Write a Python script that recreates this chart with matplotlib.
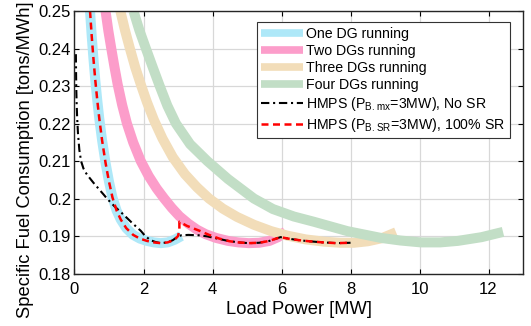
import matplotlib
matplotlib.use("Agg")
import matplotlib.pyplot as plt

plt.rcParams['font.family'] = ['Liberation Sans', 'DejaVu Sans']
plt.rcParams['mathtext.default'] = 'regular'

# ---- data ----
one_x = [0.45, 0.50, 0.55, 0.60, 0.66, 0.72, 0.80, 0.90, 1.00, 1.10, 1.22, 1.34, 1.50, 1.70, 1.90,
         2.10, 2.30, 2.50, 2.70, 2.90, 3.10]
one_y = [0.2500, 0.2432, 0.2372, 0.2318, 0.2262, 0.2212, 0.2155, 0.2095, 0.2045, 0.2003, 0.1968, 0.1944,
         0.1921, 0.1903, 0.1893, 0.1887, 0.1883, 0.1881, 0.1883, 0.1890, 0.1900]

two_x = [0.90, 0.98, 1.07, 1.16, 1.25, 1.38, 1.52, 1.70, 1.92, 2.15, 2.38, 2.60, 2.82, 3.04, 3.30,
         3.55, 3.80, 4.10, 4.45, 4.75, 5.05, 5.35, 5.65, 5.90, 6.12]
two_y = [0.2500, 0.2448, 0.2398, 0.2350, 0.2305, 0.2250, 0.2200, 0.2150, 0.2100, 0.2060, 0.2027, 0.2000,
         0.1975, 0.1953, 0.1933, 0.1917, 0.1905, 0.1895, 0.1887, 0.1883, 0.1881, 0.1882, 0.1887, 0.1897, 0.1912]

three_x = [1.33, 1.46, 1.60, 1.76, 1.93, 2.10, 2.30, 2.55, 2.85, 3.20, 3.55, 3.90, 4.30, 4.71, 5.20,
           5.70, 6.17, 6.70, 7.23, 7.70, 8.10, 8.50, 8.90, 9.32]
three_y = [0.2500, 0.2450, 0.2402, 0.2350, 0.2302, 0.2257, 0.2210, 0.2160, 0.2110, 0.2065, 0.2030, 0.2000,
           0.1973, 0.1951, 0.1930, 0.1913, 0.1901, 0.1891, 0.1885, 0.1882, 0.1882, 0.1886, 0.1894, 0.1910]

four_x = [1.71, 1.88, 2.07, 2.26, 2.47, 2.69, 2.94, 3.35, 3.85, 4.45, 5.20, 5.75, 6.36, 6.94, 7.91,
          8.88, 9.45, 10.04, 10.60, 11.11, 11.80, 12.42]
four_y = [0.2500, 0.2449, 0.2400, 0.2352, 0.2300, 0.2248, 0.2200, 0.2145, 0.2100, 0.2052, 0.2000, 0.1972,
          0.1952, 0.1938, 0.1913, 0.1895, 0.1888, 0.1883, 0.1883, 0.1887, 0.1897, 0.1911]

nosr_x = [0.04, 0.045, 0.05, 0.06, 0.075, 0.10, 0.14, 0.19, 0.26, 0.34, 0.42, 0.55, 0.70, 0.85, 0.95,
          1.15, 1.34, 1.50, 1.68, 1.80, 1.92, 2.05, 2.20, 2.35, 2.50, 2.70, 2.85, 3.00, 3.10, 3.30,
          3.60, 3.85, 4.10, 4.45, 4.75, 5.05, 5.35, 5.65, 5.97, 6.20, 6.50, 6.80, 7.20, 7.60, 8.00]
nosr_y = [0.2385, 0.2340, 0.2300, 0.2260, 0.2220, 0.2175, 0.2130, 0.2100, 0.2080, 0.2067, 0.2057, 0.2042,
          0.2026, 0.2010, 0.1999, 0.1980, 0.1964, 0.1950, 0.1934, 0.1924, 0.1914, 0.1900, 0.1889, 0.1884,
          0.1881, 0.1883, 0.1889, 0.1899, 0.1902, 0.1903, 0.1902, 0.1899, 0.1894, 0.1887, 0.1883, 0.1881,
          0.1882, 0.1887, 0.1897, 0.1893, 0.1889, 0.1886, 0.1883, 0.1881, 0.1882]

sr_x = [0.45, 0.50, 0.55, 0.60, 0.66, 0.72, 0.80, 0.90, 1.00, 1.10, 1.22, 1.34, 1.50, 1.70, 1.90,
        2.10, 2.30, 2.50, 2.70, 2.90, 3.00, 3.04, 3.04, 3.26, 3.65, 3.90, 4.20, 4.50, 4.75, 5.05,
        5.35, 5.65, 5.97, 6.20, 6.50, 6.80, 7.20, 7.60, 8.00]
sr_y = [0.2500, 0.2432, 0.2372, 0.2318, 0.2262, 0.2212, 0.2155, 0.2095, 0.2045, 0.2003, 0.1968, 0.1944,
        0.1921, 0.1903, 0.1893, 0.1887, 0.1883, 0.1881, 0.1883, 0.1890, 0.1900, 0.1915, 0.1938, 0.1927,
        0.1913, 0.1903, 0.1893, 0.1886, 0.1883, 0.1881, 0.1882, 0.1887, 0.1897, 0.1893, 0.1889, 0.1886,
        0.1883, 0.1881, 0.1882]

labels = ['One DG running', 'Two DGs running', 'Three DGs running', 'Four DGs running',
          'HMPS (P$_{B.mx}$=3MW), No SR', 'HMPS (P$_{B.SR}$=3MW), 100% SR']
band_colors = ['#aee8f8', '#fc9dca', '#f2ddb9', '#c2dec6']

xticks = [0, 2, 4, 6, 8, 10, 12]
yticks = [0.18, 0.19, 0.2, 0.21, 0.22, 0.23, 0.24, 0.25]
ytick_labels = ['0.18', '0.19', '0.2', '0.21', '0.22', '0.23', '0.24', '0.25']

fig = plt.figure(figsize=(5.31, 3.26), dpi=100)
ax = fig.add_axes([0.1403, 0.161, 0.8447, 0.805])

bands = [(one_x, one_y), (two_x, two_y), (three_x, three_y), (four_x, four_y)]
for (bx, by), c, lab in zip(bands, band_colors, labels[:4]):
    ax.plot(bx, by, color=c, lw=7.2, solid_capstyle='butt', solid_joinstyle='round', label=lab)

ax.plot(nosr_x, nosr_y, color='black', lw=1.5, linestyle=(0, (4, 1.8, 1, 1.8)), label=labels[4])
ax.plot(sr_x, sr_y, color='red', lw=1.8, linestyle=(0, (2.8, 1.8)), label=labels[5])

ax.set_xlim(0, 13)
ax.set_ylim(0.18, 0.25)
ax.set_xticks(xticks)
ax.set_yticks(yticks)
ax.set_yticklabels(ytick_labels)
ax.grid(True, color='#d8d8d8', lw=0.9)
ax.set_axisbelow(True)
ax.tick_params(direction='in', top=True, right=True, length=3.5, width=0.8, labelsize=12)
ax.tick_params(axis='x', pad=6)
ax.tick_params(axis='y', pad=2.5)
for s in ax.spines.values():
    s.set_linewidth(1.0)
    s.set_color('#262626')

ax.set_xlabel('Load Power [MW]', fontsize=13.2, labelpad=3)
ax.set_ylabel('Specific Fuel Consumption [tons/MWh]', fontsize=13.2)
ax.yaxis.set_label_coords(-0.09, 0.432)

leg = ax.legend(loc='upper right', bbox_to_anchor=(0.97, 0.957), borderaxespad=0,
                fontsize=10.2, handlelength=3.0, handletextpad=0.2, labelspacing=0.22,
                borderpad=0.3, fancybox=False, framealpha=1, edgecolor='#333333')
leg.get_frame().set_linewidth(0.8)
for h in leg.legend_handles[:4]:
    h.set_linewidth(5.5)

fig.savefig('out.png', dpi=100)
